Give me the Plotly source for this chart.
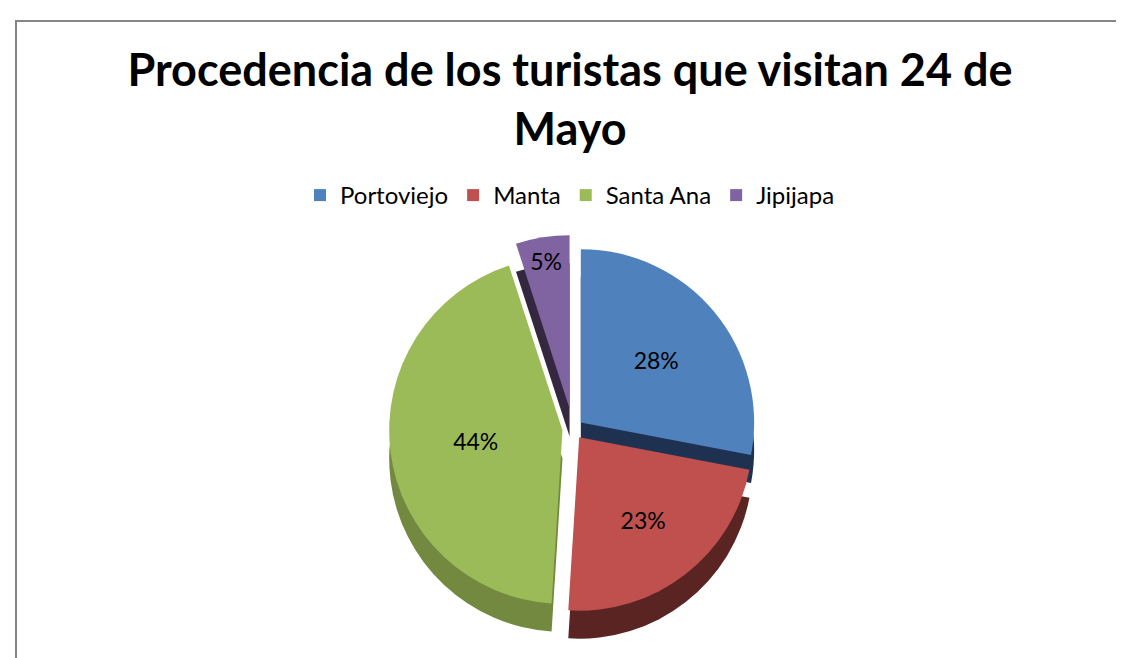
import plotly.graph_objects as go

categories = ["Portoviejo", "Manta", "Santa Ana", "Jipijapa"]
values = [28, 23, 44, 5]
colors = ["#4F81BD", "#C0504D", "#9BBB59", "#8064A2"]
side_colors = ["#1F3150", "#5A2423", "#72893F", "#33283F"]
pulls = [0.06, 0.06, 0.06, 0.12]

FONT = "Lato, Carlito, Calibri, sans-serif"
W, H = 1124, 658
depth = 28 / H
dom_x = [0.19, 0.815]
dom_y = [0.065, 0.655]

fig = go.Figure()
# side walls (depth) of the pie
fig.add_trace(go.Pie(
    labels=categories,
    values=values,
    sort=False,
    direction="clockwise",
    rotation=0,
    pull=pulls,
    marker=dict(colors=side_colors, line=dict(width=0)),
    textinfo="none",
    showlegend=False,
    hoverinfo="skip",
    domain=dict(x=dom_x, y=[dom_y[0] - depth, dom_y[1] - depth]),
))
# top face
fig.add_trace(go.Pie(
    labels=categories,
    values=values,
    sort=False,
    direction="clockwise",
    rotation=0,
    pull=pulls,
    marker=dict(colors=colors, line=dict(width=0)),
    textinfo="percent",
    texttemplate="%{percent:.0%}",
    textposition="inside",
    insidetextorientation="horizontal",
    textfont=dict(family=FONT, size=23, color="black"),
    domain=dict(x=dom_x, y=dom_y),
    hoverinfo="label+percent",
))

fig.update_layout(
    width=W, height=H,
    margin=dict(l=0, r=0, t=0, b=0),
    paper_bgcolor="white",
    plot_bgcolor="white",
    title=dict(
        text="<b>Procedencia de los turistas que visitan 24 de<br>Mayo</b>",
        x=0.5, xanchor="center",
        y=1 - 78/H, yanchor="top",
        font=dict(family=FONT, size=45, color="black"),
    ),
    legend=dict(
        orientation="h",
        x=0.5, xanchor="center",
        y=1 - 165/H, yanchor="top",
        font=dict(family=FONT, size=24, color="black"),
        itemsizing="constant",
        traceorder="normal",
    ),
    shapes=[dict(
        type="rect", xref="paper", yref="paper",
        x0=8/W, x1=1.05, y0=-0.05, y1=1 - 13/H,
        line=dict(color="#868686", width=2),
        fillcolor="rgba(0,0,0,0)",
        layer="below",
    )],
)

fig.write_html("out.html")
